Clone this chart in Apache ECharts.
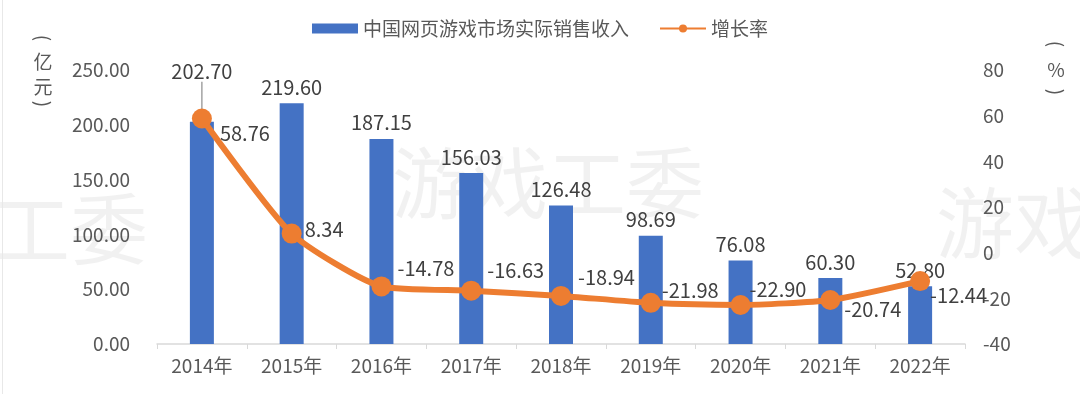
<!DOCTYPE html>
<html><head><meta charset="utf-8">
<script src="https://cdn.jsdelivr.net/npm/echarts@6/dist/echarts.min.js"></script>
<style>html,body{margin:0;padding:0;background:#fff}#c{width:1080px;height:394px}</style>
</head><body><div id="c"></div>
<script>
const categories = ['2014年','2015年','2016年','2017年','2018年','2019年','2020年','2021年','2022年'];
const revenue = [202.70, 219.60, 187.15, 156.03, 126.48, 98.69, 76.08, 60.30, 52.80];
const growth = [58.76, 8.34, -14.78, -16.63, -18.94, -21.98, -22.90, -20.74, -12.44];
const leftTicks = {min: 0, max: 250, interval: 50};
const rightTicks = {min: -40, max: 80, interval: 20};
const seriesNames = ['中国网页游戏市场实际销售收入', '增长率'];
const leftUnit = ['(','亿','元',')'];
const rightUnit = ['(','%',')'];

// label nudges (style only)
const growthLabelOffsets = [[2,15],[-3,-4],[0,-18],[0,-20],[1,-19],[-5,-12],[-7,-16],[-2,9],[-6,14]];

const FONT = '"Noto Sans CJK SC", "Noto Sans", sans-serif';
const chart = echarts.init(document.getElementById('c'));
const wm = (x, y, t) => ({type:'text', left:x, top:y, silent:true, z:-1,
  style:{text:t, font:'78px ' + FONT, fill:'rgba(0,0,0,0.055)'}});
const unitChars = (chars, cx, ys) => chars.map((ch, i) => {
  const paren = ch === '(' || ch === ')';
  return {type:'text', x:cx, y:ys[i], rotation: paren ? -Math.PI/2 : 0,
    style:{text:ch, font:'19px ' + FONT, fill:'#595959', align:'center', verticalAlign:'middle'}};
});
chart.setOption({
  animation:false,
  textStyle:{fontFamily:FONT},
  legend:{top:14, left:'center', itemWidth:46, itemHeight:10, itemGap:30,
    textStyle:{fontSize:19, color:'#595959', fontFamily:FONT},
    data:[{name:seriesNames[0], icon:'rect'}, {name:seriesNames[1]}]},
  grid:{left:157, right:115, top:70, bottom:50},
  graphic:[
    wm(-8, 190, '工委'), wm(392, 144, '游戏工委'), wm(936, 184, '游戏'),
    ...unitChars(leftUnit, 43, [38, 62, 87, 104]),
    ...unitChars(rightUnit, 1056, [44, 70, 92]),
    {type:'rect', left:2, top:0, shape:{width:1, height:394}, style:{fill:'#e8e8e8'}}
  ],
  xAxis:{type:'category', data:categories, boundaryGap:true,
    axisLine:{lineStyle:{color:'#d9d9d9', width:1.5}},
    axisTick:{show:true, length:5, lineStyle:{color:'#d9d9d9'}},
    axisLabel:{fontSize:19, color:'#595959', margin:12}},
  yAxis:[
    {type:'value', min:leftTicks.min, max:leftTicks.max, interval:leftTicks.interval,
     splitLine:{show:false}, axisLine:{show:false}, axisTick:{show:false},
     axisLabel:{fontSize:19, color:'#595959', margin:27, formatter:v=>v.toFixed(2)}},
    {type:'value', min:rightTicks.min, max:rightTicks.max, interval:rightTicks.interval,
     splitLine:{show:false}, axisLine:{show:false}, axisTick:{show:false},
     axisLabel:{fontSize:19, color:'#595959', margin:18}}
  ],
  series:[
    {name:seriesNames[0], type:'bar', yAxisIndex:0, barWidth:24,
     data:revenue.map((v, i) => i === 0 ? {value:v, labelLine:{show:true}} : v),
     itemStyle:{color:'#4472C4'},
     label:{show:true, position:'top', distance:6, fontSize:20, color:'#404040', formatter:p=>p.value.toFixed(2)},
     labelLayout:p=> p.dataIndex===0 ? {dy:-34} : {},
     labelLine:{show:false, lineStyle:{color:'#8c8c8c', width:1.2}}},
    {name:seriesNames[1], type:'line', data:growth, yAxisIndex:1, smooth:0.2,
     symbol:'circle', symbolSize:20,
     lineStyle:{color:'#ED7D31', width:6}, itemStyle:{color:'#ED7D31'},
     label:{show:true, position:'right', distance:6, fontSize:20, color:'#404040',
       formatter:p=>p.value.toFixed(2)},
     labelLayout:p=>({dx:growthLabelOffsets[p.dataIndex][0], dy:growthLabelOffsets[p.dataIndex][1]}),
     z:5}
  ]
});
</script></body></html>
